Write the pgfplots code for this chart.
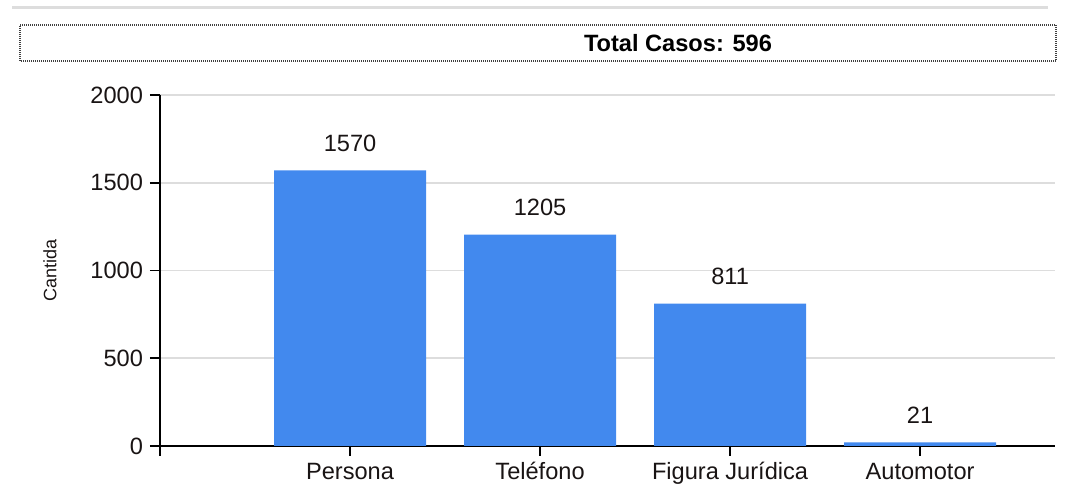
\documentclass[border=0pt]{standalone}
\usepackage{pgfplots}
\pgfplotsset{compat=1.18}
\usepackage{fontspec}
\setmainfont{Liberation Sans}
\definecolor{barblue}{RGB}{66,137,238}
\definecolor{gridgray}{RGB}{221,221,221}
\definecolor{txt}{RGB}{25,20,20}
\begin{document}
\begin{tikzpicture}[x=1pt,y=1pt]
\useasboundingbox (0,0) rectangle (533,243);
% top gray rule
\draw[gridgray, line width=1.5pt] (6,239) -- (524,239);
% title box
\draw[black!75, line width=0.7pt, dash pattern=on 0.5pt off 0.5pt] (10,212.5) rectangle (528,230.5);
\node[font=\fontsize{11.8}{14}\selectfont\bfseries, text=black] at (339,221.5) {Total Casos: 596};
\begin{axis}[
  at={(80pt,20pt)}, anchor=south west,
  scale only axis,
  width=447.5pt, height=175.5pt,
  xmin=0, xmax=4.71,
  ymin=0, ymax=2000,
  xtick={0,1,2,3,4},
  xticklabels={,Persona,Teléfono,Figura Jurídica,Automotor},
  ytick={0,500,1000,1500,2000},
  axis x line*=bottom, axis y line*=left,
  axis line style={-, black, line width=0.9pt},
  tick align=outside,
  major tick length=5pt,
  tick style={black, line width=0.9pt},
  ymajorgrids,
  grid style={gridgray, line width=0.8pt},
  /pgf/number format/assume math mode=true,
  /pgf/number format/1000 sep={},
  tick label style={font=\fontsize{11.8}{14}\selectfont, text=txt},
  x tick label style={anchor=north, text height=9pt, text depth=2.5pt, yshift=1pt},
  ylabel={Cantida},
  ylabel style={at={(axis description cs:-0.123,0.5)}, anchor=center, font=\fontsize{9}{11}\selectfont, text=txt},
  nodes near coords,
  nodes near coords style={font=\fontsize{11.8}{14}\selectfont, text=txt, yshift=6pt},
  clip=false,
]
\addplot[ybar, bar width=76pt, fill=barblue, draw=none] coordinates {(1,1570) (2,1205) (3,811) (4,21)};
\end{axis}
\end{tikzpicture}
\end{document}
